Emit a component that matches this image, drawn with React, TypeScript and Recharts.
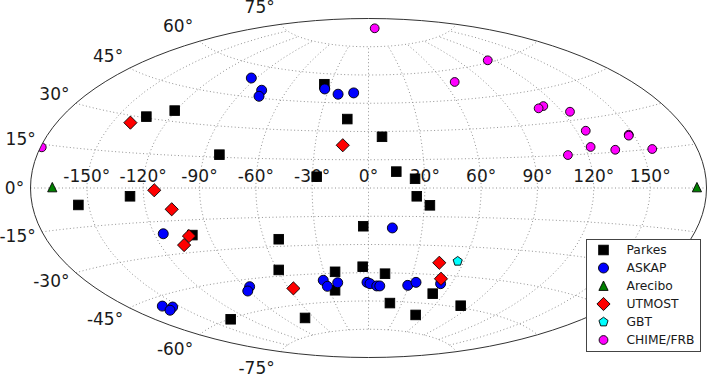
import { Legend, Scatter, ScatterChart, XAxis, YAxis } from "recharts";

// all sources are [projected x, projected y], in degrees of the Aitoff plane
const parkes = [
  [-118.3, 37.9], [-103.2, 41.1], [-79.4, 17.7], [-23.5, 55.1], [-11.3, 36.6], [7.2, 27.2],
  [-27.6, 6.0], [14.8, 8.7], [24.8, 4.9], [-154.5, -9.0], [-127.0, -4.4], [-93.8, -25.0],
  [-73.4, -69.7], [25.7, -4.4], [32.7, -9.2], [-2.8, -20.3], [-47.8, -27.2], [-47.8, -43.5],
  [-17.8, -44.5], [-3.1, -41.8], [8.8, -45.5], [-17.8, -54.3], [34.2, -56.1], [11.4, -61.1],
  [49.1, -62.5], [25.1, -67.4], [-33.8, -69.0],
];
const askap = [
  [-62.4, 58.4], [-56.9, 51.9], [-58.3, 48.7], [-23.3, 52.6], [-16.2, 49.8], [-7.9, 50.5],
  [-109.3, -24.3], [-109.8, -62.7], [-104.3, -63.2], [-105.7, -64.9], [12.7, -21.2],
  [-63.3, -52.4], [-64.3, -54.7], [-24.1, -49.0], [-21.9, -52.2], [-16.4, -50.3], [-0.8, -50.1],
  [0.8, -50.8], [4.4, -52.0], [6.0, -52.0], [20.9, -51.7], [25.3, -50.1], [38.4, -50.8],
];
const arecibo = [[-168.4, 0.3], [174.9, 0.3]];
const utmost = [
  [-126.8, 34.7], [-13.7, 22.7], [-114.1, -1.2], [-104.8, -11.3], [-95.6, -25.5], [-98.2, -30.3],
  [-40.0, -53.3], [37.7, -39.7], [38.6, -48.2],
];
const gbt = [[47.5, -38.9]];
const chime = [
  [-174.0, 21.6], [3.3, 84.8], [45.9, 56.3], [63.5, 67.8], [93.1, 43.5], [90.6, 42.3],
  [107.3, 40.5], [115.7, 30.4], [138.6, 28.3], [138.6, 27.8], [118.3, 21.8], [131.4, 20.3],
  [151.1, 20.7], [106.2, 17.5],
];

const lonTicks = [-150, -120, -90, -60, -30, 0, 30, 60, 90, 120, 150];
const latTicks = [-75, -60, -45, -30, -15, 0, 15, 30, 45, 60, 75];

const surveys = [
  { name: "Parkes", kind: "square", fill: "#000000", points: parkes },
  { name: "ASKAP", kind: "circle", fill: "#0000ff", points: askap },
  { name: "Arecibo", kind: "triangle", fill: "#008000", points: arecibo },
  { name: "UTMOST", kind: "diamond", fill: "#ff0000", points: utmost },
  { name: "GBT", kind: "pentagon", fill: "#00ffff", points: gbt },
  { name: "CHIME/FRB", kind: "small", fill: "#ff00ff", points: chime },
];

const RAD = Math.PI / 180;

function aitoff(lon: number, lat: number) {
  const half = (lon * RAD) / 2;
  const phi = lat * RAD;
  const alpha = Math.acos(Math.cos(phi) * Math.cos(half));
  const sinc = alpha === 0 ? 1 : Math.sin(alpha) / alpha;
  return {
    x: ((2 * Math.cos(phi) * Math.sin(half)) / sinc) / RAD,
    y: (Math.sin(phi) / sinc) / RAD,
  };
}

function steps(from: number, to: number, step: number) {
  const out: number[] = [];
  for (let v = from; v <= to; v += step) out.push(v);
  return out;
}

const parallels = latTicks.map((lat) => steps(-180, 180, 5).map((lon) => aitoff(lon, lat)));
const meridians = lonTicks.map((lon) => steps(-75, 75, 5).map((lat) => aitoff(lon, lat)));
const outline = steps(-90, 90, 3)
  .map((lat) => aitoff(180, lat))
  .concat(steps(-90, 90, 3).reverse().map((lat) => aitoff(-180, lat)));

const lonLabels = lonTicks.map((lon) => ({ ...aitoff(lon, 0), text: `${lon}°` }));
const latLabels = latTicks.map((lat) => ({ ...aitoff(-180, lat), lat, text: `${lat}°` }));

const FONT = "'DejaVu Sans', sans-serif";
const noMarker = () => <g />;

function Marker({ kind, fill, cx, cy }: { kind: string; fill: string; cx: number; cy: number }) {
  const common = { fill, stroke: "#000000", strokeWidth: 0.9 };
  if (kind === "square") return <rect x={cx - 4.8} y={cy - 4.8} width={9.6} height={9.6} {...common} />;
  if (kind === "circle") return <circle cx={cx} cy={cy} r={5} {...common} />;
  if (kind === "small") return <circle cx={cx} cy={cy} r={4.4} {...common} />;
  if (kind === "triangle") {
    return <polygon points={`${cx},${cy - 5} ${cx + 4.6},${cy + 4.4} ${cx - 4.6},${cy + 4.4}`} {...common} />;
  }
  if (kind === "diamond") {
    return <polygon points={`${cx},${cy - 6.6} ${cx + 6.6},${cy} ${cx},${cy + 6.6} ${cx - 6.6},${cy}`} {...common} />;
  }
  const pts = [0, 1, 2, 3, 4].map((i) => {
    const a = (-90 + i * 72) * RAD;
    return `${cx + 4.8 * Math.cos(a)},${cy + 4.8 * Math.sin(a)}`;
  });
  return <polygon points={pts.join(" ")} {...common} />;
}

function LonLabel(props: any) {
  return (
    <text x={props.cx} y={props.cy - 12} textAnchor="middle" dominantBaseline="central" fontFamily={FONT} fontSize={17} fill="#1a1a1a">
      {props.payload.text}
    </text>
  );
}

function LatLabel(props: any) {
  const dy = -0.5 - 17 * Math.sin(props.payload.lat * RAD);
  return (
    <text x={props.cx - 6.3} y={props.cy + dy} textAnchor="end" dominantBaseline="central" fontFamily={FONT} fontSize={17} fill="#1a1a1a">
      {props.payload.text}
    </text>
  );
}

function SurveyLegend() {
  return (
    <svg width={116} height={114} style={{ display: "block" }}>
      <rect x={0.5} y={0.5} width={114} height={112} fill="#ffffff" stroke="#444444" />
      {surveys.map((s, i) => (
        <g key={s.name}>
          <Marker kind={s.kind} fill={s.fill} cx={17.5} cy={11 + i * 18} />
          <text x={40.5} y={11 + i * 18} dominantBaseline="central" fontFamily={FONT} fontSize={12.3} fill="#1a1a1a">
            {s.name}
          </text>
        </g>
      ))}
    </svg>
  );
}

export default function App() {
  return (
    <div style={{ position: "absolute", left: 0, top: 0, width: 710, height: 375, background: "#ffffff" }}>
      <ScatterChart width={710} height={375} margin={{ top: 18.5, right: 3.5, bottom: 17.5, left: 30.5 }}>
        <defs>
          <clipPath id="sky">
            <ellipse cx={368.5} cy={188} rx={338} ry={169.5} />
          </clipPath>
        </defs>
        <XAxis type="number" dataKey="x" domain={[-180, 180]} hide />
        <YAxis type="number" dataKey="y" domain={[-90, 90]} hide />
        {parallels.concat(meridians).map((curve, i) => (
          <Scatter
            key={i}
            data={curve}
            line={{ stroke: "#777777", strokeWidth: 0.8, strokeDasharray: "1 2.5" }}
            lineType="joint"
            shape={noMarker}
            legendType="none"
            isAnimationActive={false}
          />
        ))}
        <Scatter data={lonLabels} shape={LonLabel} legendType="none" isAnimationActive={false} />
        <Scatter data={latLabels} shape={LatLabel} legendType="none" isAnimationActive={false} />
        {surveys.map((s) => (
          <Scatter
            key={s.name}
            name={s.name}
            data={s.points.map(([x, y]) => ({ x, y }))}
            isAnimationActive={false}
            shape={(props: any) => (
              <g clipPath="url(#sky)">
                <Marker kind={s.kind} fill={s.fill} cx={props.cx} cy={props.cy} />
              </g>
            )}
          />
        ))}
        <Scatter
          data={outline}
          line={{ stroke: "#333333", strokeWidth: 1 }}
          lineType="joint"
          shape={noMarker}
          legendType="none"
          isAnimationActive={false}
        />
        <Legend
          layout="vertical"
          align="center"
          verticalAlign="middle"
          content={SurveyLegend}
          wrapperStyle={{ left: 586, top: 239, width: 116, height: 114 }}
        />
      </ScatterChart>
    </div>
  );
}
